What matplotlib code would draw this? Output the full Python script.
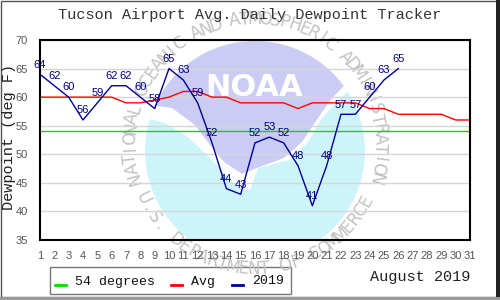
import numpy as np
import matplotlib
matplotlib.use("Agg")
import matplotlib.pyplot as plt
from matplotlib import font_manager
from matplotlib.patches import Circle, Polygon, Rectangle
from matplotlib.lines import Line2D

# data
days = list(range(1, 32))
avg = [60, 60, 60, 60, 60, 60, 59, 59, 59.5, 60, 61, 61, 60, 60, 59, 59,
       59, 59, 58, 59, 59, 59, 59, 58, 58, 57, 57, 57, 57, 56, 56]
days_2019 = list(range(1, 27))
dew_2019 = [64, 62, 60, 56, 59, 62, 62, 60, 58, 65, 63, 59, 52, 44, 43, 52,
            53, 52, 48, 41, 48, 57, 57, 60, 63, 65]
threshold = 54
y_ticks = [35, 40, 45, 50, 55, 60, 65, 70]

title = "Tucson Airport Avg. Daily Dewpoint Tracker"
month_label = "August 2019"

MONO = "Liberation Mono"
SANS = "Liberation Sans"
installed = {f.name for f in font_manager.fontManager.ttflist}
NARROW = "Liberation Sans Narrow" if "Liberation Sans Narrow" in installed else "DejaVu Sans"

fig = plt.figure(figsize=(5, 3), dpi=100, facecolor="white")

# background layer in pixel coords (y down) for the NOAA watermark and frame
bg = fig.add_axes([0, 0, 1, 1], zorder=0)
bg.set_xlim(0, 500)
bg.set_ylim(300, 0)
bg.axis("off")

cx, cy, r = 255, 151, 110
disc = Circle((cx, cy), r, facecolor="#cdf4fa", edgecolor="none")
bg.add_patch(disc)

# white gull band and lavender top, clipped to the disc
gull = Polygon([(130, 30), (380, 30), (380, 70), (360, 82), (340, 98), (322, 118),
                (308, 142), (290, 160), (258, 168), (250, 190), (236, 186),
                (212, 160), (188, 137), (165, 123), (130, 114)],
               facecolor="white", edgecolor="none")
bg.add_patch(gull)
gull.set_clip_path(disc)
top = Polygon([(130, 30), (380, 30), (380, 62), (350, 80), (332, 98), (318, 118),
               (302, 142), (284, 158), (262, 166), (242, 174), (224, 162),
               (210, 145), (195, 125), (172, 108), (130, 102)],
              facecolor="#cbccf3", edgecolor="none")
bg.add_patch(top)
top.set_clip_path(disc)
# the logo stops at the bottom of the plot area
bg.add_patch(Rectangle((120, 241), 270, 40, facecolor="white", edgecolor="none"))
bg.text(254, 88, "NOAA", color="white", fontsize=22, fontweight="bold",
        ha="center", va="center", family="DejaVu Sans")

ring_cy = 144


def arc_text(ax, text, a0, a1, radius, upper):
    for ch, a in zip(text, np.linspace(a0, a1, len(text))):
        t = np.radians(a)
        rot = a - 90 if upper else a + 90
        ax.text(cx + radius * np.cos(t), ring_cy - radius * np.sin(t), ch,
                rotation=rot, rotation_mode="anchor", ha="center", va="center",
                color="#c2c2c2", fontsize=12, family=NARROW)


arc_text(bg, "NATIONAL OCEANIC AND ATMOSPHERIC ADMINISTRATION", 196, -16, 125, True)
arc_text(bg, "U.S. DEPARTMENT OF COMMERCE", 206, 333, 125, False)

# outer frame
bg.add_patch(Rectangle((0.5, 0.5), 496, 296, fill=False, edgecolor="#555555", lw=1))
bg.add_patch(Rectangle((496, 0), 4, 300, facecolor="#222222", edgecolor="none"))
bg.add_patch(Rectangle((0, 297), 500, 3, facecolor="#999999", edgecolor="none"))

# main chart
ax = fig.add_axes([40 / 500, 60 / 300, 430 / 500, 200 / 300], zorder=1)
ax.set_facecolor("none")
ax.plot([1, 31], [threshold, threshold], color="#00dd00", lw=1)
ax.plot(days, avg, color="#ff0000", lw=1)
ax.plot(days_2019, dew_2019, color="#000099", lw=1)
for d, v in zip(days_2019, dew_2019):
    ax.annotate(str(v), (d, v), xytext=(0, 7), textcoords="offset points",
                ha="center", va="center", color="#000080", fontsize=8, family=SANS)

ax.set_xlim(1, 31)
ax.set_ylim(35, 70)
ax.set_xticks(days)
ax.set_yticks(y_ticks)
ax.yaxis.grid(True, color="#d6d6d6", lw=1)
ax.set_axisbelow(True)
ax.tick_params(length=0, labelsize=8, labelcolor="#555555")
ax.tick_params(axis="x", pad=8)
ax.tick_params(axis="y", pad=9)
for lab in ax.get_xticklabels() + ax.get_yticklabels():
    lab.set_family(SANS)
for sp in ax.spines.values():
    sp.set_color("black")
    sp.set_linewidth(1.5)

fig.text(0.5, 1 - 15 / 300, title, ha="center", va="center",
         family=MONO, fontsize=11, color="#333333")
fig.text(9 / 500, 1 - 137 / 300, "Dewpoint (deg F)", rotation=90, ha="center",
         va="center", family=MONO, fontsize=11, color="#222222")
fig.text(370 / 500, 1 - 277 / 300, month_label, ha="left", va="center",
         family=MONO, fontsize=11, color="#222222")

# legend box
bg.add_patch(Rectangle((50, 267), 241, 27, fill=False, edgecolor="#777777", lw=1))
legend_items = [("54 degrees", "#00dd00", 55), ("Avg", "#ff0000", 171), ("2019", "#000099", 232)]
for name, col, x0 in legend_items:
    bg.add_line(Line2D([x0, x0 + 11], [285, 285], color=col, lw=2))
    bg.text(x0 + 20, 281.5, name, ha="left", va="center", family=MONO,
            fontsize=9.5, color="#111111")

fig.savefig("out.png", dpi=100)
